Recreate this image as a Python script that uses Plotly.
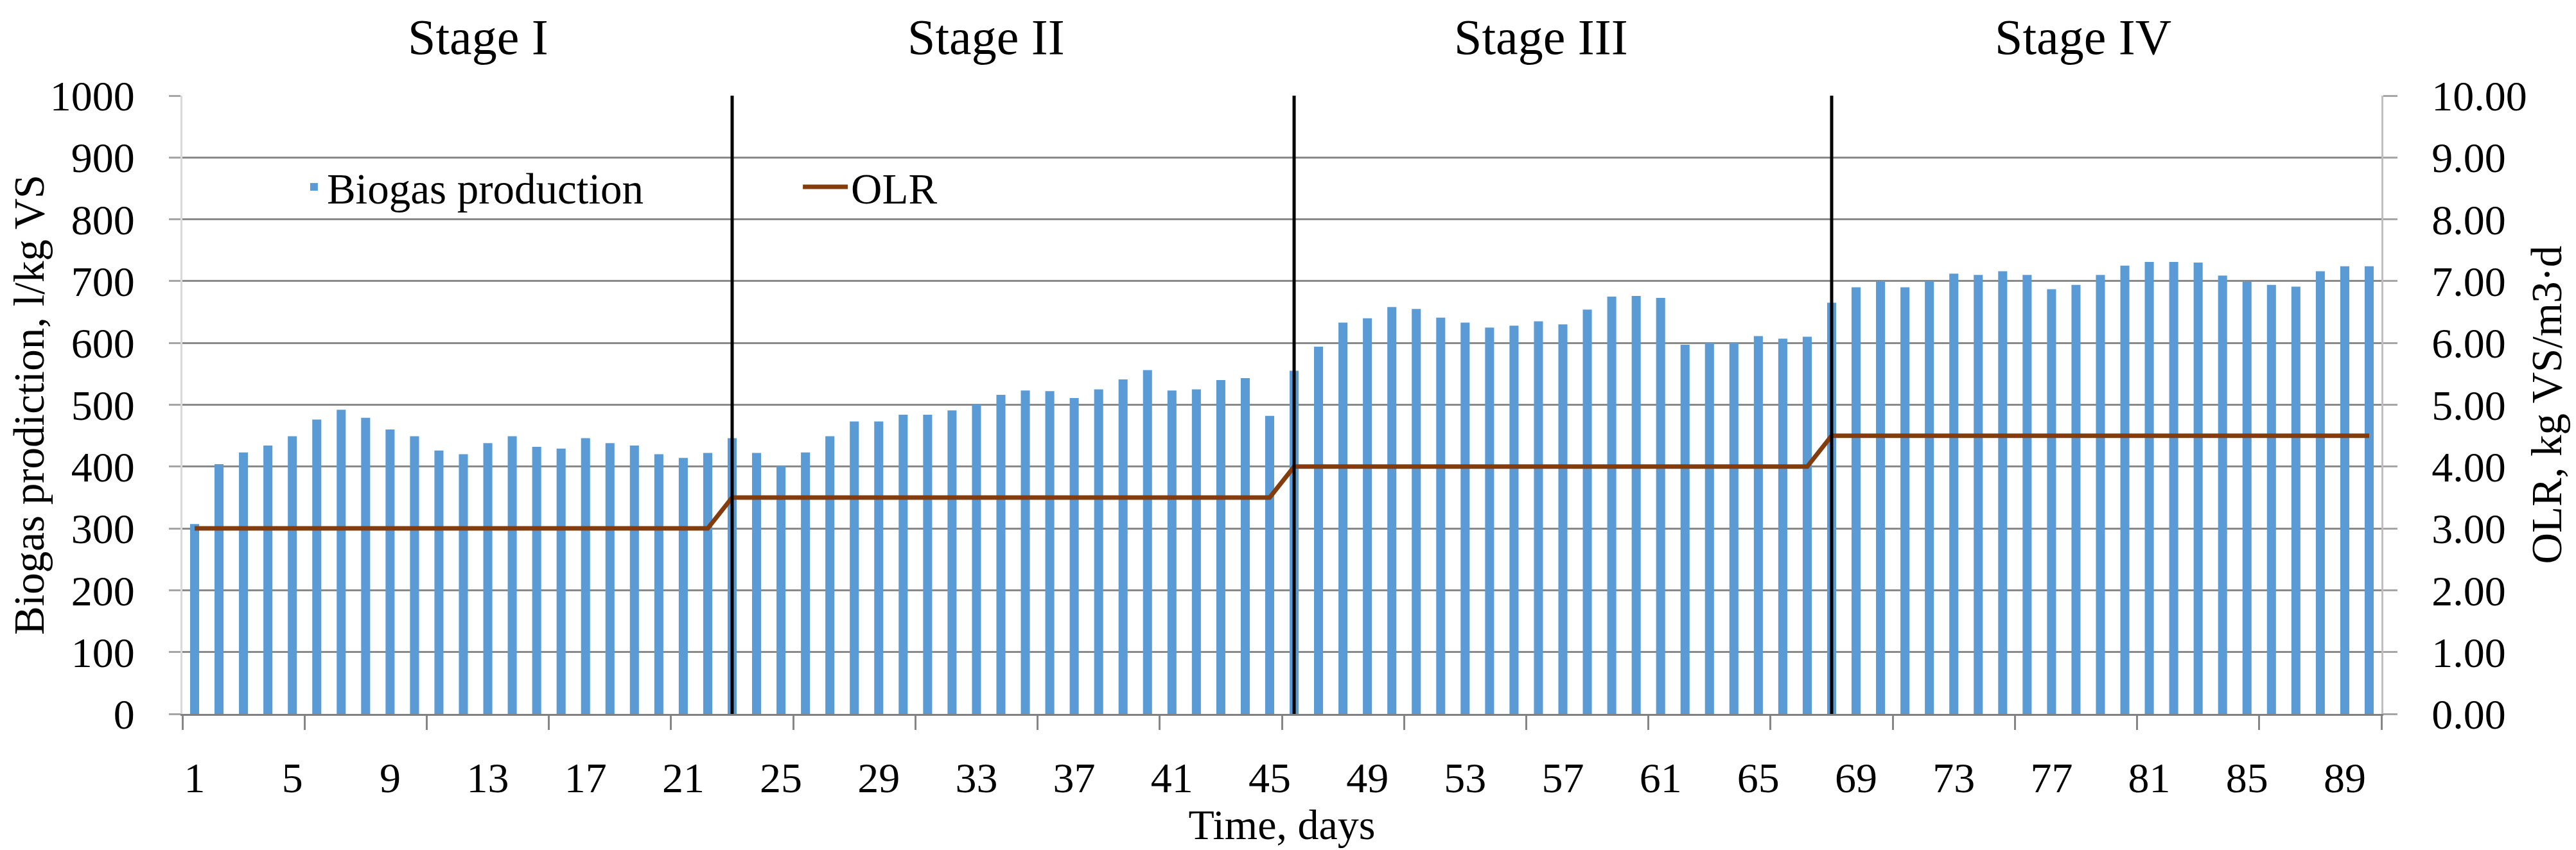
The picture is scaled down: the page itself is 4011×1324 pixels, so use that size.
import plotly.graph_objects as go

# ---------------- data ----------------
days = list(range(1, 91))

biogas_production = [
    307, 404, 423, 434, 449, 476, 492, 479, 460, 449,
    426, 420, 438, 449, 432, 429, 446, 438, 434, 420,
    414, 422, 446, 422, 401, 423, 449, 473, 473, 484,
    484, 491, 501, 516, 523, 522, 511, 525, 541, 556,
    523, 525, 540, 543, 482, 555, 594, 633, 640, 658,
    655, 641, 633, 625, 628, 635, 630, 654, 675, 676,
    673, 597, 600, 600, 611, 607, 610, 665, 690, 700,
    690, 700, 712, 710, 716, 710, 687, 694, 710, 725,
    731, 731, 730, 709, 699, 694, 691, 716, 724, 724,
]

olr = [
    3.0, 3.0, 3.0, 3.0, 3.0, 3.0, 3.0, 3.0, 3.0, 3.0,
    3.0, 3.0, 3.0, 3.0, 3.0, 3.0, 3.0, 3.0, 3.0, 3.0,
    3.0, 3.0, 3.5, 3.5, 3.5, 3.5, 3.5, 3.5, 3.5, 3.5,
    3.5, 3.5, 3.5, 3.5, 3.5, 3.5, 3.5, 3.5, 3.5, 3.5,
    3.5, 3.5, 3.5, 3.5, 3.5, 4.0, 4.0, 4.0, 4.0, 4.0,
    4.0, 4.0, 4.0, 4.0, 4.0, 4.0, 4.0, 4.0, 4.0, 4.0,
    4.0, 4.0, 4.0, 4.0, 4.0, 4.0, 4.0, 4.5, 4.5, 4.5,
    4.5, 4.5, 4.5, 4.5, 4.5, 4.5, 4.5, 4.5, 4.5, 4.5,
    4.5, 4.5, 4.5, 4.5, 4.5, 4.5, 4.5, 4.5, 4.5, 4.5,
]

stage_names = ["Stage I", "Stage II", "Stage III", "Stage IV"]
stage_boundary_days = [23, 46, 68]

x_tick_values = [1, 5, 9, 13, 17, 21, 25, 29, 33, 37, 41, 45,
                 49, 53, 57, 61, 65, 69, 73, 77, 81, 85, 89]
y_left_ticks = [0, 100, 200, 300, 400, 500, 600, 700, 800, 900, 1000]
y_right_ticks = [0, 1, 2, 3, 4, 5, 6, 7, 8, 9, 10]

# ---------------- figure ----------------
FONT = "Liberation Serif, Times New Roman, serif"
TICK_SIZE = 66
GRID = "#8a8a8a"

fig = go.Figure()

fig.add_trace(go.Bar(
    x=days, y=biogas_production, name="Biogas production",
    marker=dict(color="#5B9BD5", line=dict(width=0)),
    width=0.37, legend="legend",
))

fig.add_trace(go.Scatter(
    x=days, y=olr, name="OLR", mode="lines",
    line=dict(color="#843C0C", width=7),
    yaxis="y2", legend="legend2",
))

for d in stage_boundary_days:
    fig.add_shape(type="line", xref="x", yref="paper", x0=d, x1=d, y0=0, y1=1,
                  line=dict(color="black", width=5), layer="above")

stage_label_x = [12.6, 33.4, 56.1, 78.3]
for name, sx in zip(stage_names, stage_label_x):
    fig.add_annotation(x=sx, xref="x", y=1.095, yref="paper", text=name,
                       showarrow=False, xanchor="center", yanchor="middle",
                       font=dict(family=FONT, size=78, color="black"))

fig.update_layout(
    width=4011, height=1324,
    margin=dict(l=276, r=311, t=141, b=220),
    paper_bgcolor="white", plot_bgcolor="white",
    font=dict(family=FONT, size=TICK_SIZE, color="black"),
    bargap=0.63,
    showlegend=True,
    legend=dict(orientation="h", x=0.054, y=0.852, xanchor="left", yanchor="middle",
                bgcolor="rgba(0,0,0,0)", font=dict(family=FONT, size=67, color="black")),
    legend2=dict(orientation="h", x=0.2807, y=0.852, xanchor="left", yanchor="middle",
                 itemwidth=70,
                 bgcolor="rgba(0,0,0,0)", font=dict(family=FONT, size=67, color="black")),
    xaxis=dict(
        range=[0.5, 90.5], tickmode="array", tickvals=x_tick_values,
        ticktext=[str(v) for v in x_tick_values],
        ticks="", showgrid=False, zeroline=False,
        showline=True, linecolor="#808080", linewidth=3,
        tickfont=dict(family=FONT, size=TICK_SIZE, color="black"),
        ticklabelstandoff=40,
        minor=dict(tick0=0.5, dtick=5, ticks="outside", ticklen=22,
                   tickcolor="#868686", tickwidth=3, showgrid=False),
        title=dict(text="Time, days", standoff=12,
                   font=dict(family=FONT, size=66, color="black")),
        automargin=False,
    ),
    yaxis=dict(
        range=[0, 1000], tickmode="array", tickvals=y_left_ticks,
        ticks="outside", ticklen=18, tickcolor="#a6a6a6", tickwidth=3,
        showgrid=True, gridcolor=GRID, gridwidth=3, zeroline=False,
        showline=True, linecolor="#d9d9d9", linewidth=3,
        tickfont=dict(family=FONT, size=TICK_SIZE, color="black"),
        ticklabelstandoff=40,
        title=dict(text="Biogas prodiction, l/kg VS", standoff=5,
                   font=dict(family=FONT, size=67, color="black")),
        automargin=False,
    ),
    yaxis2=dict(
        range=[0, 10], overlaying="y", side="right", tickmode="array",
        tickvals=y_right_ticks, tickformat=".2f",
        ticks="outside", ticklen=22, tickcolor="#a6a6a6", tickwidth=3,
        showgrid=False, zeroline=False,
        showline=True, linecolor="#bfbfbf", linewidth=3,
        tickfont=dict(family=FONT, size=TICK_SIZE, color="black"),
        ticklabelstandoff=40,
        title=dict(text="OLR, kg VS/m3·d", standoff=8,
                   font=dict(family=FONT, size=67, color="black")),
        automargin=False,
    ),
)

fig.write_html("out.html")
